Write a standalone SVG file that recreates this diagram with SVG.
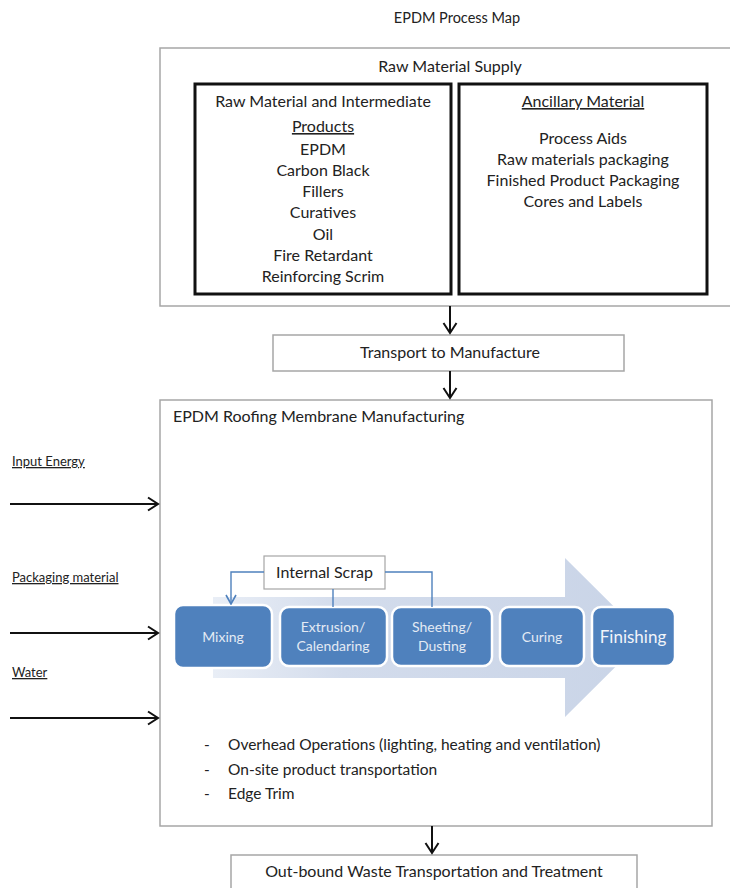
<svg xmlns="http://www.w3.org/2000/svg" width="730" height="888" viewBox="0 0 730 888">
<defs>
<style>
text{font-family:Lato,"Liberation Sans",sans-serif;fill:#222;font-size:16px}
.c{text-anchor:middle}
.u{text-decoration:underline}
.box{fill:#fff;stroke:#a6a6a6;stroke-width:1.5}
.thick{fill:#fff;stroke:#111;stroke-width:3}
.arr{stroke:#111;stroke-width:2;fill:none}
.scr{stroke:#4f81bd;stroke-width:1.4;fill:none}
.step{fill:#4f81bd;stroke:#fff;stroke-width:2.5}
.st{fill:#e3eaf4;font-size:14px;text-anchor:middle}
.small{font-size:13px}
.bl{font-size:15.5px}
</style>
<marker id="ah" markerUnits="userSpaceOnUse" markerWidth="14" markerHeight="16" viewBox="0 0 14 16" refX="12" refY="8" orient="auto">
<path d="M2,1.5 L12,8 L2,14.5" fill="none" stroke="#111" stroke-width="2"/>
</marker>
<marker id="bh" markerUnits="userSpaceOnUse" markerWidth="12" markerHeight="12" viewBox="0 0 12 12" refX="11" refY="6" orient="auto">
<path d="M2,1 L11,6 L2,11" fill="none" stroke="#4f81bd" stroke-width="1.6"/>
</marker>
<linearGradient id="g" x1="0" y1="0" x2="1" y2="0">
<stop offset="0" stop-color="#e9eef6"/>
<stop offset="0.3" stop-color="#d3dcec"/>
<stop offset="1" stop-color="#c9d4e7"/>
</linearGradient>
</defs>
<rect width="730" height="888" fill="#fff"/>

<g id="title"><text x="457" y="23" class="c" style="font-size:14.5px">EPDM Process Map</text></g>

<g id="raw-supply">
<rect class="box" x="160" y="48" width="580" height="258"/>
<text x="450" y="72" class="c">Raw Material Supply</text>
</g>
<g id="raw-products">
<rect class="thick" x="195" y="84" width="256" height="210"/>
<text x="323" y="107" class="c">Raw Material and Intermediate</text>
<text x="323" y="132" class="c u">Products</text>
<text x="323" y="155" class="c">EPDM</text>
<text x="323" y="176" class="c">Carbon Black</text>
<text x="323" y="197" class="c">Fillers</text>
<text x="323" y="218" class="c">Curatives</text>
<text x="323" y="240" class="c">Oil</text>
<text x="323" y="261" class="c">Fire Retardant</text>
<text x="323" y="282" class="c">Reinforcing Scrim</text>
</g>
<g id="ancillary">
<rect class="thick" x="459" y="84" width="248" height="210"/>
<text x="583" y="107" class="c u">Ancillary Material</text>
<text x="583" y="144" class="c">Process Aids</text>
<text x="583" y="165" class="c">Raw materials packaging</text>
<text x="583" y="186" class="c">Finished Product Packaging</text>
<text x="583" y="207" class="c">Cores and Labels</text>
</g>

<g id="transport">
<rect class="box" x="273" y="335" width="351" height="36"/>
<text x="450" y="358" class="c">Transport to Manufacture</text>
</g>

<g id="manufacturing">
<rect class="box" x="160" y="400" width="552" height="426"/>
<text x="173" y="422">EPDM Roofing Membrane Manufacturing</text>
<polygon points="213,597 565,597 565,558 645,637.5 565,717 565,678 213,678" fill="url(#g)"/>
<text x="204" y="750" class="bl">-</text>
<text x="228" y="750" class="bl">Overhead Operations (lighting, heating and ventilation)</text>
<text x="204" y="775" class="bl">-</text>
<text x="228" y="775" class="bl">On-site product transportation</text>
<text x="204" y="799" class="bl">-</text>
<text x="228" y="799" class="bl">Edge Trim</text>
</g>

<g id="mixing"><rect class="step" x="174" y="605" width="98" height="63" rx="9"/><text class="st" x="223" y="642">Mixing</text></g>
<g id="extrusion"><rect class="step" x="280" y="607" width="107" height="59" rx="9"/><text class="st" x="333" y="632">Extrusion/</text><text class="st" x="333" y="651">Calendaring</text></g>
<g id="sheeting"><rect class="step" x="392" y="607" width="100" height="59" rx="9"/><text class="st" x="442" y="632">Sheeting/</text><text class="st" x="442" y="651">Dusting</text></g>
<g id="curing"><rect class="step" x="500" y="607" width="84" height="59" rx="9"/><text class="st" x="542" y="642">Curing</text></g>
<g id="finishing"><rect class="step" x="592" y="607" width="83" height="59" rx="9"/><text class="st" x="633" y="643" style="font-size:17px;fill:#f2f5fa">Finishing</text></g>

<g id="internal-scrap">
<rect x="264" y="556" width="121" height="33" fill="#fff" stroke="#a6a6a6" stroke-width="1.2"/>
<text x="324.5" y="578" class="c">Internal Scrap</text>
</g>

<g id="out-bound">
<rect class="box" x="231" y="855" width="406" height="40"/>
<text x="434" y="877" class="c">Out-bound Waste Transportation and Treatment</text>
</g>

<g id="inputs">
<text x="12" y="466" class="u small">Input Energy</text>
<text x="12" y="582" class="u small">Packaging material</text>
<text x="12" y="677" class="u small">Water</text>
</g>

<g id="connectors">
<line class="arr" x1="450" y1="306" x2="450" y2="333" marker-end="url(#ah)"/>
<line class="arr" x1="450" y1="371" x2="450" y2="398" marker-end="url(#ah)"/>
<line class="arr" x1="432" y1="826" x2="432" y2="853" marker-end="url(#ah)"/>
<line class="arr" x1="10" y1="504" x2="158" y2="504" marker-end="url(#ah)"/>
<line class="arr" x1="10" y1="633" x2="158" y2="633" marker-end="url(#ah)"/>
<line class="arr" x1="10" y1="718" x2="158" y2="718" marker-end="url(#ah)"/>
<polyline class="scr" points="264,572 231,572 231,604" marker-end="url(#bh)"/>
<line class="scr" x1="333" y1="589" x2="333" y2="607"/>
<polyline class="scr" points="385,572 432,572 432,607"/>
</g>
</svg>
